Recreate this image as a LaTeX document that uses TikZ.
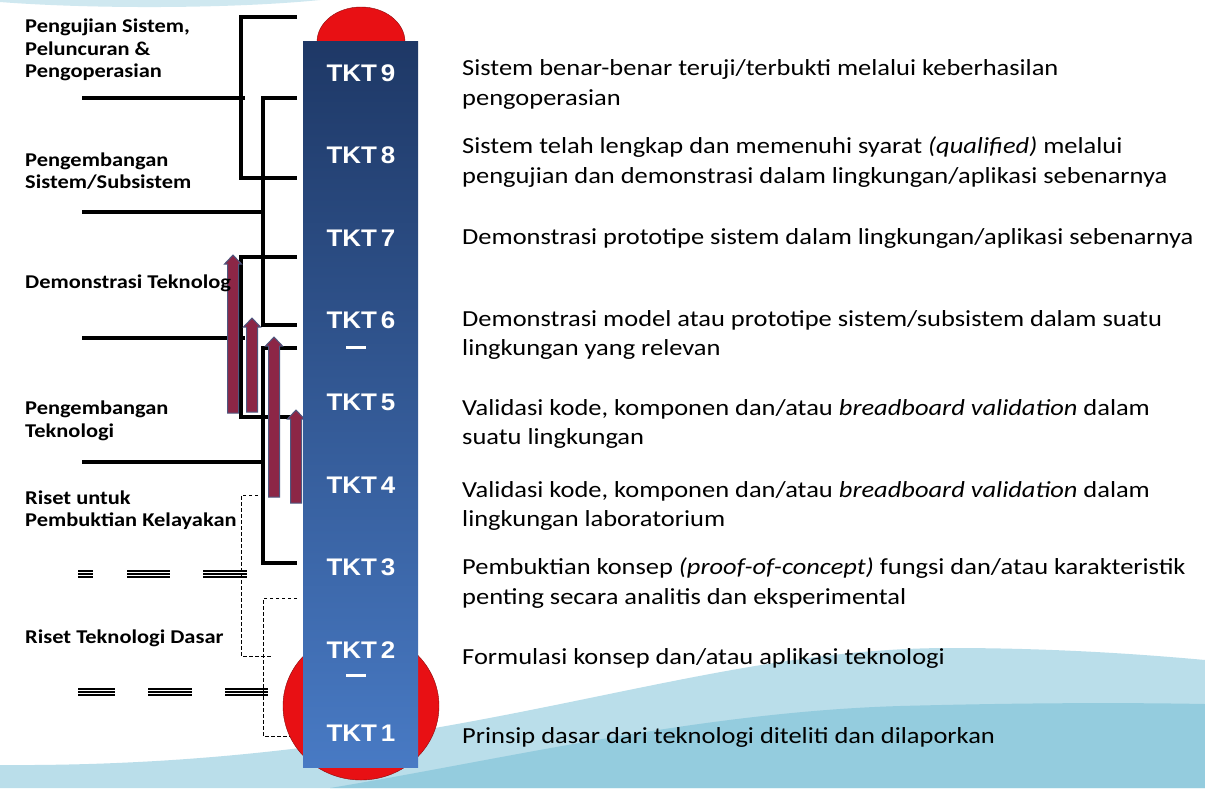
\documentclass[tikz,border=0pt]{standalone}
\usepackage{fontspec}
\setmainfont{Carlito}[FakeStretch=1.15]
\newfontfamily\tktfont{Liberation Sans}[FakeStretch=1.08]
\usetikzlibrary{positioning}
\definecolor{navytop}{RGB}{30,56,102}
\definecolor{navybot}{RGB}{72,122,196}
\definecolor{domered}{RGB}{232,16,20}
\definecolor{wavelight}{RGB}{186,222,234}
\definecolor{wavedark}{RGB}{148,204,222}
\definecolor{arrowred}{RGB}{140,38,70}
\definecolor{arrowedge}{RGB}{78,88,128}
\tikzstyle{tkt} = [text=white, font=\tktfont\bfseries\fontsize{24}{24}\selectfont, inner sep=0pt]
\tikzstyle{desc} = [anchor=west, align=left, inner sep=0pt, font=\fontsize{23}{29.5}\selectfont]
\tikzstyle{phase} = [anchor=west, align=left, inner sep=0pt, font=\bfseries\fontsize{19.5}{22.5}\selectfont]
\tikzstyle{bracket} = [line width=3.2pt]
\tikzstyle{dotbracket} = [line width=1pt, dash pattern=on 3.5pt off 2.5pt]
\tikzstyle{liftarrow} = [fill=arrowred, draw=arrowedge, line width=1pt]
\newcommand{\lift}[3]{\draw[liftarrow] (#1-5.5,#2) -- (#1-5.5,#3+9) -- (#1-8.5,#3+9) -- (#1,#3) -- (#1+8.5,#3+9) -- (#1+5.5,#3+9) -- (#1+5.5,#2) -- cycle;}
\newcommand{\triplebar}[3]{\foreach \o in {-3,0,3} \draw[line width=1.6pt] (#1,#3+\o) -- (#2,#3+\o);}
\begin{document}
\begin{tikzpicture}[x=1pt, y=-1pt]
\useasboundingbox (0,0) rectangle (1205,788);
\fill[white] (0,0) rectangle (1205,788);
\fill[wavelight!70] (0,0) -- (0,2) .. controls (90,9) and (230,9) .. (320,0) -- cycle;
\fill[wavelight] (0,765) .. controls (450,768) and (680,648) .. (950,648) .. controls (1060,648) and (1150,655) .. (1205,660) -- (1205,788) -- (0,788) -- cycle;
\fill[wavedark] (330,788) .. controls (500,760) and (700,712) .. (900,706) .. controls (1050,702) and (1150,703) .. (1205,704) -- (1205,788) -- cycle;

\draw[bracket] (297,17) -| (241,178) -- (297,178);
\draw[bracket] (297,98) -| (263,325) -- (297,325);
\draw[bracket] (297,257) -| (241,417) -- (297,417);
\draw[bracket] (297,348) -| (263,563) -- (297,563);
\draw[bracket] (82,98) -- (245,98);
\draw[bracket] (82,212) -- (265,212);
\draw[bracket] (82,338) -- (245,338);
\draw[bracket] (82,462) -- (265,462);
\draw[dotbracket] (258,495) -| (241,656) -- (272,656);
\draw[dotbracket] (297,598) -| (263,736) -- (290,736);
\triplebar{78}{93}{574}
\triplebar{127}{170}{574}
\triplebar{203}{247}{574}
\triplebar{78}{115}{692}
\triplebar{148}{192}{692}
\triplebar{225}{268}{692}

\lift{233}{413}{255}
\lift{252}{412}{318}
\lift{274}{497}{337}
\lift{296}{503}{410}

\draw[fill=domered, draw=domered!60!black] (361,42) ellipse (44 and 35);
\draw[fill=domered, draw=domered!60!black] (361,706) ellipse (78 and 74);
\shade[top color=navytop, bottom color=navybot] (303,41) rectangle (418,767);

\node[tkt] (tkt9) at (361,73) {TKT\,9};
\node[tkt] (tkt8) at (361,155) {TKT\,8};
\node[tkt] (tkt7) at (361,238) {TKT\,7};
\node[tkt] (tkt6) at (361,320) {TKT\,6};
\node[tkt] (tkt5) at (361,402) {TKT\,5};
\node[tkt] (tkt4) at (361,485) {TKT\,4};
\node[tkt] (tkt3) at (361,567) {TKT\,3};
\node[tkt] (tkt2) at (361,650) {TKT\,2};
\node[tkt] (tkt1) at (361,733) {TKT\,1};
\draw[white, line width=3pt] (346,347) -- (366,347);
\draw[white, line width=3pt] (346,675) -- (366,675);

\node[desc] (d9) at (462,84.5) {Sistem benar-benar teruji/terbukti melalui keberhasilan\\pengoperasian};
\node[desc] (d8) at (462,162) {Sistem telah lengkap dan memenuhi syarat \textit{(qualified)} melalui\\pengujian dan demonstrasi dalam lingkungan/aplikasi sebenarnya};
\node[desc] (d7) at (462,238) {Demonstrasi prototipe sistem dalam lingkungan/aplikasi sebenarnya};
\node[desc] (d6) at (462,335) {Demonstrasi model atau prototipe sistem/subsistem dalam suatu\\lingkungan yang relevan};
\node[desc] (d5) at (462,424) {Validasi kode, komponen dan/atau \textit{breadboard validation} dalam\\suatu lingkungan};
\node[desc] (d4) at (462,506) {Validasi kode, komponen dan/atau \textit{breadboard validation} dalam\\lingkungan laboratorium};
\node[desc] (d3) at (462,583) {Pembuktian konsep \textit{(proof-of-concept)} fungsi dan/atau karakteristik\\penting secara analitis dan eksperimental};
\node[desc] (d2) at (462,658) {Formulasi konsep dan/atau aplikasi teknologi};
\node[desc] (d1) at (462,737) {Prinsip dasar dari teknologi diteliti dan dilaporkan};

\node[phase] (p1) at (25,50) {Pengujian Sistem,\\Peluncuran \&\\Pengoperasian};
\node[phase] (p2) at (25,171) {Pengembangan\\Sistem/Subsistem};
\node[phase] (p3) at (25,283) {Demonstrasi Teknolog};
\node[phase] (p4) at (25,421) {Pengembangan\\Teknologi};
\node[phase] (p5) at (25,510) {Riset untuk\\Pembuktian Kelayakan};
\node[phase] (p6) at (25,638) {Riset Teknologi Dasar};
\end{tikzpicture}
\end{document}
